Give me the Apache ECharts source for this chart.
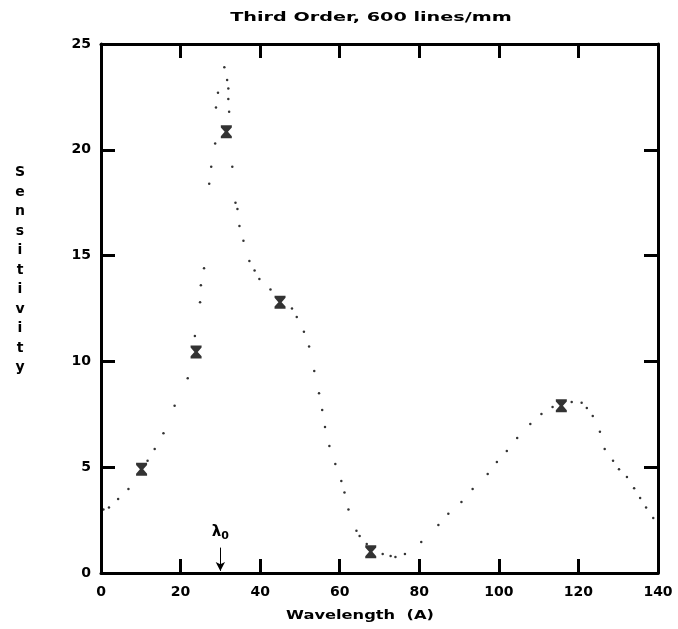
<!DOCTYPE html>
<html>
<head>
<meta charset="utf-8">
<script src="https://cdn.jsdelivr.net/npm/echarts@6/dist/echarts.min.js"></script>
<style>html,body{margin:0;padding:0;background:#fff}#c{width:678px;height:629px}</style>
</head>
<body>
<div id="c"></div>
<script>
// Measured sensitivity points (hourglass markers)
const measX = [10.2, 23.9, 31.5, 45.0, 67.8, 115.7];
const measY = [4.9, 10.45, 20.85, 12.8, 1.0, 7.9];
// Dotted model curve, traced dot by dot
const curveX = [0.6, 2.0, 4.3, 6.9, 11.7, 13.5, 15.7, 18.5, 21.8, 23.6, 24.9, 25.1, 25.9, 27.2, 27.7, 28.7, 28.9, 29.4, 31.0,
  31.7, 32.0, 32.0, 32.2, 33.0, 33.8, 34.3, 34.8, 35.8, 37.3, 38.6, 39.8, 42.6, 48.0, 49.2, 51.0,
  52.3, 53.6, 54.8, 55.6, 56.3, 57.4, 58.9, 60.4, 61.2, 62.2, 64.2, 65.0, 66.8, 70.8, 72.8, 74.0, 76.4,
  80.5, 84.8, 87.3, 90.6, 93.4, 97.2, 99.5, 102.0, 104.6, 107.9, 110.7, 113.5, 118.3, 120.8, 122.1, 123.6,
  125.4, 126.6, 128.7, 130.2, 132.2, 134.0, 135.5, 137.0, 138.8];
const curveY = [3.0, 3.1, 3.5, 3.97, 5.3, 5.86, 6.6, 7.9, 9.2, 11.2, 12.8, 13.6, 14.4, 18.4, 19.2, 20.3, 22.0, 22.7, 23.9,
  23.3, 22.9, 22.4, 21.8, 19.2, 17.5, 17.2, 16.4, 15.7, 14.75, 14.3, 13.9, 13.4, 12.5, 12.1, 11.4,
  10.7, 9.55, 8.5, 7.7, 6.9, 6.0, 5.15, 4.35, 3.8, 3.0, 2.0, 1.75, 1.37, 0.9, 0.8, 0.76, 0.9,
  1.47, 2.27, 2.8, 3.36, 3.97, 4.68, 5.25, 5.77, 6.38, 7.04, 7.52, 7.85, 8.08, 8.04, 7.8, 7.42,
  6.67, 5.86, 5.3, 4.9, 4.54, 4.0, 3.55, 3.1, 2.6];
const xTicks = [0, 20, 40, 60, 80, 100, 120, 140];
const yTicks = [0, 5, 10, 15, 20, 25];
const lambdaX = 30;

const FONT = 'DejaVu Sans';
const chart = echarts.init(document.getElementById('c'), null, {renderer: 'canvas'});
const axisCommon = {
  type: 'value',
  axisLine: {show: true, onZero: false, lineStyle: {color: '#000', width: 3}},
  axisTick: {show: true, inside: true, length: 14, lineStyle: {color: '#000', width: 3}},
  splitLine: {show: false}
};
const hourglass = 'path://M0,0 L10,0 L10,2 L6.5,6 L10,10 L10,12 L0,12 L0,10 L3.5,6 L0,2 Z';
chart.setOption({
  animation: false,
  backgroundColor: '#fff',
  grid: {left: 101, right: 20, top: 44, bottom: 56},
  xAxis: [
    Object.assign({}, axisCommon, {
      position: 'bottom', min: xTicks[0], max: xTicks[xTicks.length - 1], interval: 20,
      axisLabel: {show: true, color: '#000', fontFamily: FONT, fontWeight: 'bold', fontSize: 14, margin: 12}
    }),
    Object.assign({}, axisCommon, {
      position: 'top', min: xTicks[0], max: xTicks[xTicks.length - 1], interval: 20,
      axisLabel: {show: false}
    })
  ],
  yAxis: [
    Object.assign({}, axisCommon, {
      position: 'left', min: yTicks[0], max: yTicks[yTicks.length - 1], interval: 5,
      axisLabel: {show: true, color: '#000', fontFamily: FONT, fontWeight: 'bold', fontSize: 14, margin: 10}
    }),
    Object.assign({}, axisCommon, {
      position: 'right', min: yTicks[0], max: yTicks[yTicks.length - 1], interval: 5,
      axisLabel: {show: false}
    })
  ],
  graphic: [
    {type: 'text', x: 371, y: 18, scaleX: 1.6, scaleY: 1,
     style: {text: 'Third Order, 600 lines/mm', font: 'bold 12px ' + FONT, fill: '#000', align: 'center', verticalAlign: 'middle'}},
    {type: 'text', x: 20, y: 163,
     style: {text: 'Sensitivity'.split('').join('\n'), font: 'bold 14px ' + FONT, fill: '#000', lineHeight: 19.5, align: 'center'}},
    {type: 'text', x: 360, y: 616, scaleX: 1.25, scaleY: 1,
     style: {text: 'Wavelength  (A)', font: 'bold 13px ' + FONT, fill: '#000', align: 'center', verticalAlign: 'middle'}}
  ],
  series: [
    {
      type: 'scatter', xAxisIndex: 0, yAxisIndex: 0,
      data: curveX.map((x, i) => [x, curveY[i]]),
      symbol: 'circle', symbolSize: 2.5,
      itemStyle: {color: '#000'},
      markLine: {
        silent: true, symbol: ['none', 'arrow'], symbolSize: [7, 9],
        lineStyle: {color: '#000', width: 1, type: 'solid'},
        label: {show: true, position: 'start', formatter: '{a|λ}{b|0}', distance: [-6, 6],
          rich: {a: {fontSize: 15, fontWeight: 'bold', color: '#000', fontFamily: FONT},
                 b: {fontSize: 11, fontWeight: 'bold', color: '#000', fontFamily: FONT, padding: [8, 0, 0, 0]}}},
        data: [[{coord: [lambdaX, 1.2]}, {coord: [lambdaX, 0.1]}]]
      }
    },
    {
      type: 'scatter', xAxisIndex: 0, yAxisIndex: 0,
      data: measX.map((x, i) => [x, measY[i]]),
      symbol: hourglass, symbolSize: [11, 13],
      itemStyle: {color: '#000'}
    }
  ]
});
</script>
</body>
</html>
